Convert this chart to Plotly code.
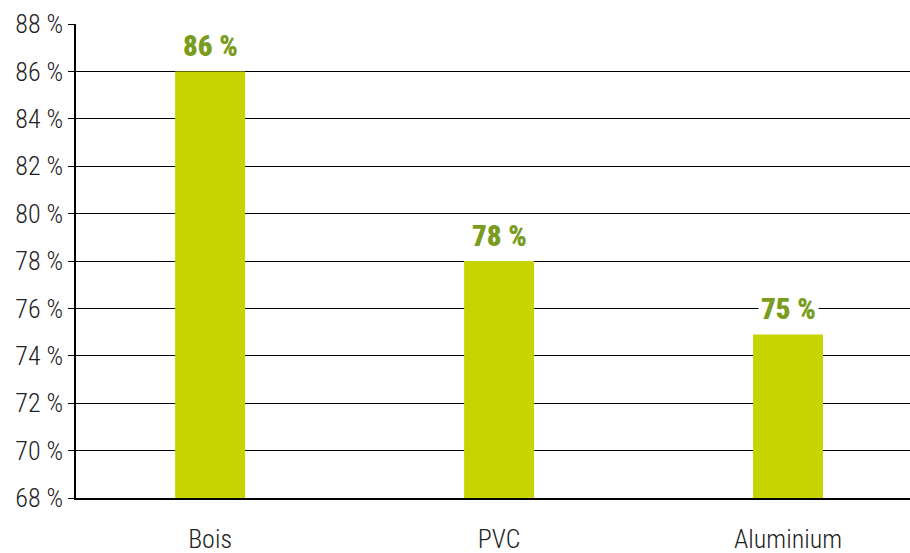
import plotly.graph_objects as go

categories = ["Bois", "PVC", "Aluminium"]
values = [86, 78, 74.9]
value_labels = ["86 %", "78 %", "75 %"]
y_ticks = [68, 70, 72, 74, 76, 78, 80, 82, 84, 86, 88]
y_tick_labels = ["%d %%" % v for v in y_ticks]

FONT = "Roboto Condensed, Liberation Sans Narrow, Roboto, sans-serif"

fig = go.Figure()
fig.add_trace(go.Bar(
    x=list(range(len(categories))), y=[v - 68 for v in values], base=68,
    width=0.242, marker=dict(color="#c8d400", line=dict(width=0)),
))

for i, (v, t) in enumerate(zip(values, value_labels)):
    fig.add_annotation(x=i, y=v, text=t, showarrow=False,
                       yshift=25, font=dict(family=FONT, size=29, color="#7a9c1e", weight=900),
                       bgcolor="white", borderpad=2)

fig.update_layout(
    width=910, height=553,
    margin=dict(l=76, r=0, t=24, b=55, autoexpand=False),
    plot_bgcolor="white", paper_bgcolor="white",
    showlegend=False,
    font=dict(family=FONT, size=22, color="#222222"),
)
fig.update_xaxes(
    range=[-0.464, 2.422], tickvals=list(range(len(categories))), ticktext=categories,
    showgrid=False, showline=True, linecolor="black", linewidth=1.5,
    ticks="", ticklabelstandoff=17, zeroline=False, automargin=False,
    tickfont=dict(family=FONT, size=26, color="#222222", weight=300),
)
fig.update_yaxes(
    range=[68, 88], tickvals=y_ticks, ticktext=y_tick_labels,
    showgrid=True, gridcolor="black", gridwidth=1,
    showline=True, linecolor="black", linewidth=1.5,
    ticks="outside", ticklen=6, tickcolor="black", zeroline=False, automargin=False,
    tickfont=dict(family=FONT, size=26, color="#222222", weight=300),
)
fig.write_html("out.html", config={"displayModeBar": False},
               post_script="document.body.style.margin='0';document.body.style.overflow='hidden';")
